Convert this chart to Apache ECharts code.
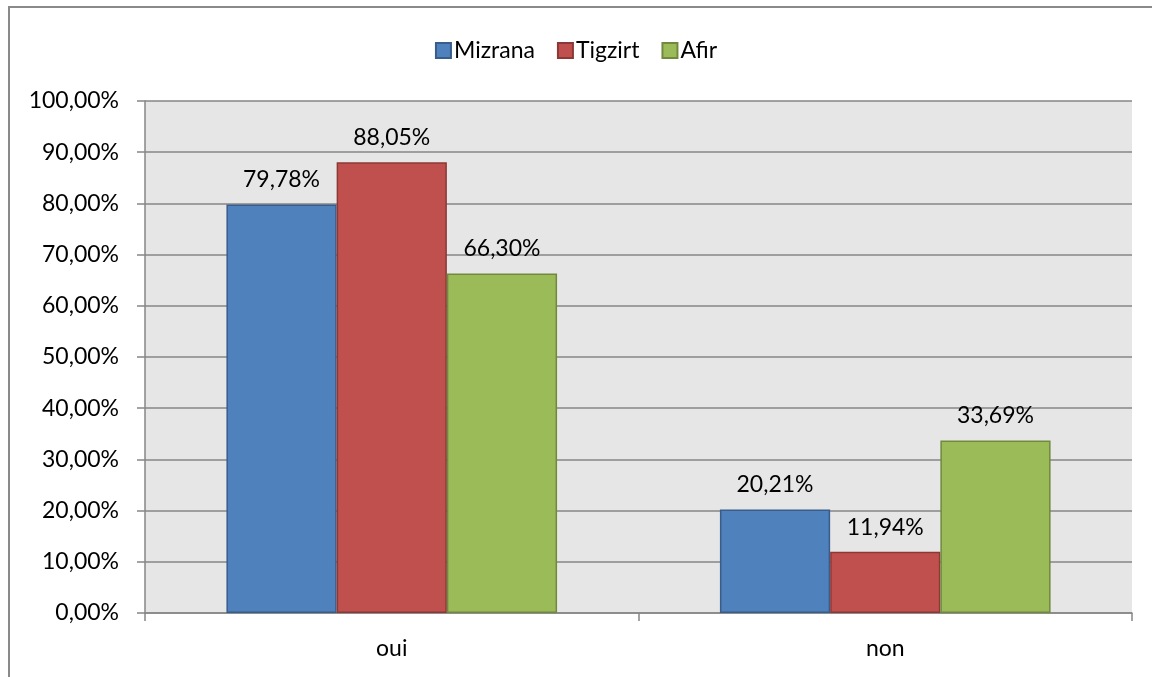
<!DOCTYPE html>
<html>
<head>
<meta charset="utf-8">
<script src="https://cdn.jsdelivr.net/npm/echarts@6/dist/echarts.min.js"></script>
<style>
html, body { margin: 0; padding: 0; background: #fff; }
#chart { width: 1152px; height: 677px; }
</style>
</head>
<body>
<div id="chart"></div>
<script>
// données
var categories = ['oui', 'non'];
var mizrana = [79.78, 20.21];
var tigzirt = [88.05, 11.94];
var afir = [66.30, 33.69];

var fontName = 'Lato';
var fs = 23;

function pct(v) {
  return v.toFixed(2).replace('.', ',') + '%';
}

function barSerie(name, data, color, border) {
  return {
    name: name,
    type: 'bar',
    data: data,
    barGap: '0%',
    barCategoryGap: '33%',
    itemStyle: { color: color, borderColor: border, borderWidth: 1.5 },
    label: {
      show: true,
      position: 'top',
      distance: 13,
      color: '#000',
      fontFamily: fontName,
      fontSize: fs,
      formatter: function (p) { return pct(p.value); }
    }
  };
}

var chart = echarts.init(document.getElementById('chart'));
var option = {
  animation: false,
  backgroundColor: '#fff',
  graphic: [{
    type: 'rect',
    shape: { x: 9, y: 7, width: 1200, height: 720 },
    style: { fill: 'none', stroke: '#8a8a8a', lineWidth: 2 },
    z: 100
  }],
  legend: {
    top: 34,
    left: 'center',
    icon: 'rect',
    itemWidth: 15,
    itemHeight: 15,
    itemGap: 22,
    textStyle: { fontFamily: fontName, fontSize: fs, color: '#000', padding: [0, 0, 0, -2] },
    data: ['Mizrana', 'Tigzirt', 'Afir']
  },
  grid: {
    left: 145,
    right: 20,
    top: 101,
    bottom: 64,
    show: true,
    backgroundColor: '#e6e6e6',
    borderWidth: 0
  },
  xAxis: {
    type: 'category',
    data: categories,
    axisLine: { lineStyle: { color: '#868686', width: 1.5 } },
    axisTick: { show: true, length: 8, lineStyle: { color: '#868686', width: 1.5 } },
    axisLabel: { fontFamily: fontName, fontSize: fs, color: '#000', margin: 24 }
  },
  yAxis: {
    type: 'value',
    min: 0,
    max: 100,
    interval: 10,
    axisLine: { show: true, lineStyle: { color: '#868686', width: 1.5 } },
    axisTick: { show: true, length: 8, lineStyle: { color: '#868686', width: 1.5 } },
    splitLine: { lineStyle: { color: '#868686', width: 1.5 } },
    axisLabel: {
      fontFamily: fontName, fontSize: fs, color: '#000', margin: 26,
      formatter: function (v) { return pct(v); }
    }
  },
  series: [
    barSerie('Mizrana', mizrana, '#4f81bd', '#385d8a'),
    barSerie('Tigzirt', tigzirt, '#c0504d', '#8c3836'),
    barSerie('Afir', afir, '#9bbb59', '#71893f')
  ]
};
chart.setOption(option);
</script>
</body>
</html>
